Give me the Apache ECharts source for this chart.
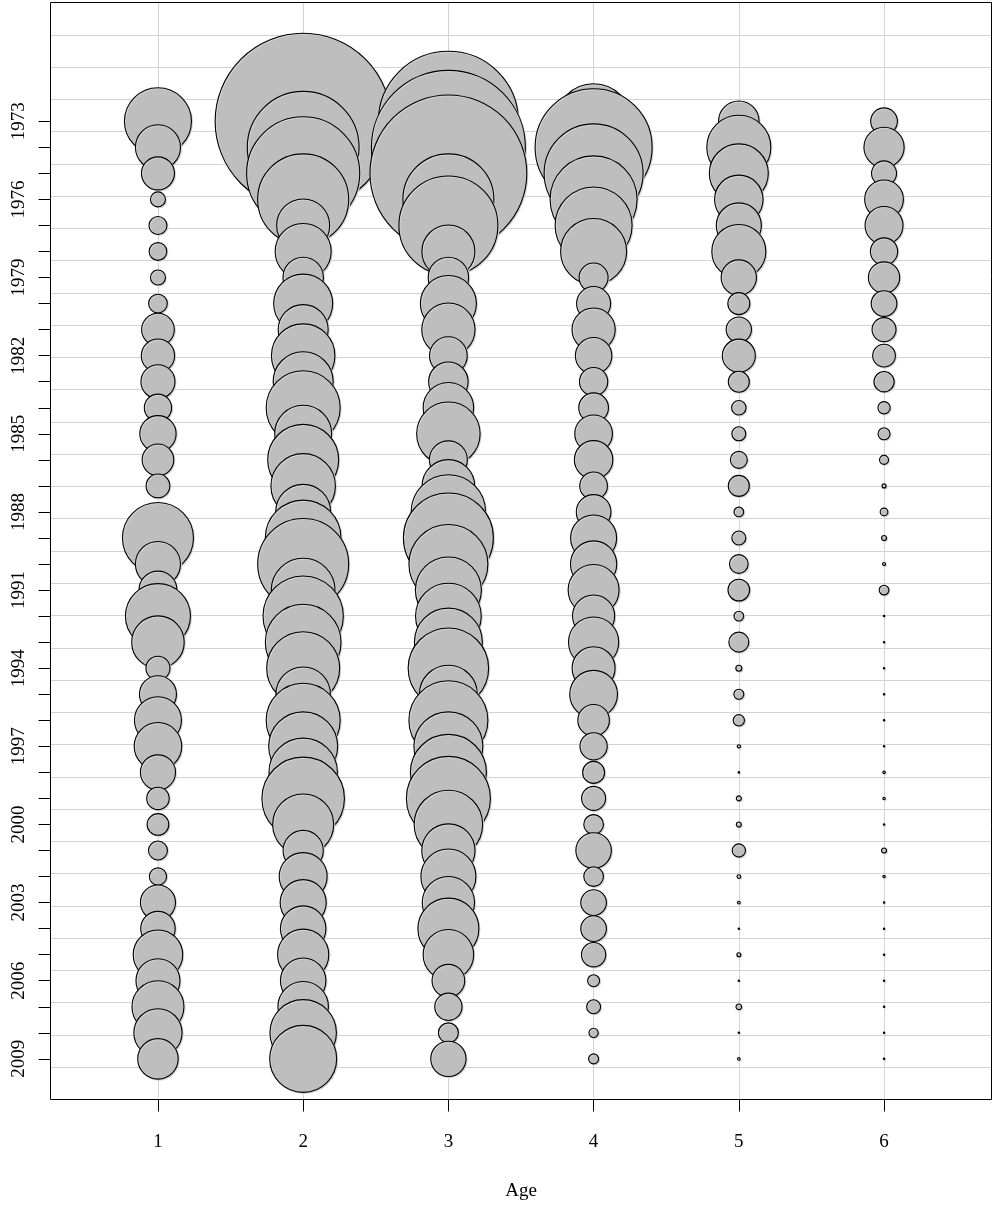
<!DOCTYPE html>
<html>
<head>
<meta charset="utf-8">
<script src="https://cdn.jsdelivr.net/npm/echarts@6/dist/echarts.min.js"></script>
<style>html,body{margin:0;padding:0;background:#fff}#c{width:997px;height:1209px}</style>
</head>
<body>
<div id="c"></div>
<script>
// Years (rows) and ages (columns)
var years = [];
for (var yr = 1973; yr <= 2009; yr++) years.push(yr);
var ages = [1, 2, 3, 4, 5, 6];
var yearLabels = [1973, 1976, 1979, 1982, 1985, 1988, 1991, 1994, 1997, 2000, 2003, 2006, 2009];

// Values per age, 1973..2009 (bubble area is proportional to value)
var age1 = [44.9, 20.3, 10.9, 2.25, 3.24, 3.13, 2.25, 3.5, 10.7, 11.1, 11.6, 7.45, 13.2, 10.0, 5.62, 1.69, 50.4, 20.3, 14.4, 42.3, 27.6, 5.76, 13.7, 22.1, 22.6, 12.3, 5.06, 4.71, 3.61, 2.99, 12.3, 11.9, 24.5, 19.4, 27.0, 23.3, 16.4];
var age2 = [310, 125, 128, 82.8, 28.1, 31.4, 16.4, 34.8, 25.0, 40.3, 36.0, 54.8, 32.5, 50.4, 41.6, 30.3, 57.3, 82.8, 40.6, 64.5, 57.3, 53.3, 29.7, 54.8, 47.6, 46.9, 68.1, 37.2, 16.2, 23.0, 21.2, 20.7, 26.2, 20.7, 25.5, 44.2, 44.9];
var age3 = [196, 237, 246, 82.8, 98.0, 28.1, 16.4, 31.4, 28.4, 14.2, 15.6, 25.5, 40.3, 14.4, 27.6, 55.5, 81.0, 62.4, 43.6, 43.2, 46.2, 64.8, 33.6, 62.4, 47.6, 57.8, 70.6, 46.9, 28.4, 30.3, 27.4, 37.2, 25.5, 10.7, 7.45, 4.0, 12.5];
var age4 = [56.3, 137, 98.0, 75.7, 59.3, 43.6, 8.41, 11.6, 18.7, 13.3, 8.01, 8.82, 14.2, 14.8, 7.67, 12.0, 21.2, 21.4, 26.0, 17.8, 25.2, 18.5, 22.8, 10.0, 7.45, 4.84, 5.76, 3.88, 12.6, 3.88, 6.6, 6.6, 5.9, 1.44, 1.96, 0.86, 1.0];
var age5 = [16.4, 41.0, 34.8, 23.5, 20.3, 29.2, 12.5, 4.84, 6.4, 10.9, 4.41, 2.1, 1.96, 2.89, 4.41, 0.94, 1.96, 3.5, 4.71, 0.94, 4.0, 0.36, 1.0, 1.28, 0.11, 0.02, 0.25, 0.25, 1.77, 0.14, 0.07, 0.02, 0.16, 0.02, 0.32, 0.02, 0.07];
var age6 = [7.13, 16.2, 6.25, 15.0, 14.4, 7.45, 9.8, 6.6, 5.76, 5.15, 4.12, 1.51, 1.44, 0.81, 0.16, 0.59, 0.25, 0.09, 0.94, 0.02, 0.02, 0.02, 0.02, 0.02, 0.02, 0.06, 0.06, 0.02, 0.25, 0.06, 0.02, 0.02, 0.02, 0.02, 0.02, 0.02, 0.02];

var columns = [age1, age2, age3, age4, age5, age6];
var data = [];
for (var a = 0; a < ages.length; a++) {
  for (var i = 0; i < years.length; i++) {
    data.push([ages[a], years[i], columns[a][i]]);
  }
}

var FONT = "'Liberation Serif', 'DejaVu Serif', serif";
var chart = echarts.init(document.getElementById('c'), null, {renderer: 'canvas'});
chart.setOption({
  animation: false,
  backgroundColor: '#fff',
  grid: {left: 50.5, top: 2.5, width: 941, height: 1097, show: true, borderColor: '#000', borderWidth: 1, backgroundColor: 'transparent', z: 10},
  xAxis: {
    type: 'value', min: 0.26, max: 6.74,
    name: 'Age', nameLocation: 'middle', nameGap: 82,
    nameTextStyle: {fontFamily: FONT, fontSize: 19, color: '#000'},
    axisLine: {show: false},
    axisTick: {show: true, length: 12, customValues: ages, lineStyle: {color: '#000', width: 1}},
    axisLabel: {customValues: ages, fontFamily: FONT, fontSize: 19, color: '#000', margin: 33,
      formatter: function (v) { return String(v); }},
    splitLine: {show: true, lineStyle: {color: '#d3d3d3', width: 1}}
  },
  yAxis: [{
    type: 'value', inverse: true, min: 1968.44, max: 2010.56,
    axisLine: {show: false},
    axisTick: {show: true, length: 12, customValues: years, lineStyle: {color: '#000', width: 1}},
    axisLabel: {customValues: yearLabels, rotate: 90, fontFamily: FONT, fontSize: 19, color: '#000', margin: 22,
      formatter: function (v) { return String(v); }},
    splitLine: {show: false}
  }, {
    type: 'value', min: 0, max: 34, interval: 1, position: 'right',
    axisLine: {show: false}, axisTick: {show: false}, axisLabel: {show: false},
    splitLine: {show: true, showMinLine: false, showMaxLine: false, lineStyle: {color: '#d3d3d3', width: 1}}
  }],
  series: [{
    type: 'scatter',
    yAxisIndex: 0,
    data: data,
    symbol: 'circle',
    symbolSize: function (v) { return 10 * Math.sqrt(v[2]); },
    itemStyle: {color: '#bebebe', borderColor: '#000', borderWidth: 1.1, opacity: 1,
      shadowColor: '#d2d2d2', shadowBlur: 0, shadowOffsetX: 1, shadowOffsetY: 1},
    emphasis: {disabled: true},
    silent: true
  }]
});
</script>
</body>
</html>
